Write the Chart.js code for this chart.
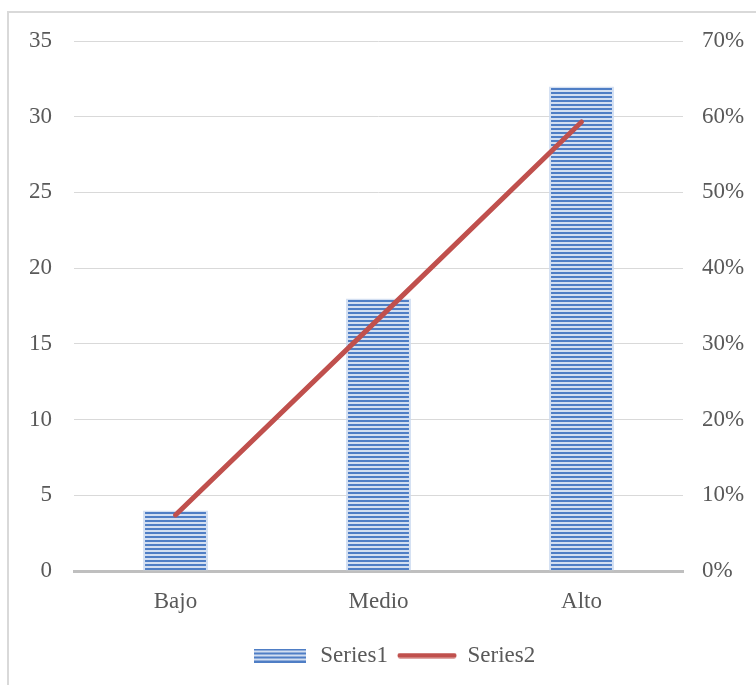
<!DOCTYPE html>
<html>
<head>
<meta charset="utf-8">
<script src="https://cdn.jsdelivr.net/npm/chart.js@4"></script>
<style>
  body { margin: 0; background: #fff; }
  #wrap { width: 756px; height: 685px; }
</style>
</head>
<body>
<div id="wrap"><canvas id="chartNivel"></canvas></div>
<script>
// data
var categories = ['Bajo', 'Medio', 'Alto'];
var series1 = [4, 18, 32];
var series2 = [7.4, 33.3, 59.3];   // percent
var leftTicks = [0, 5, 10, 15, 20, 25, 30, 35];
var rightTicks = [0, 10, 20, 30, 40, 50, 60, 70];

var fontFamily = "'Liberation Serif', 'DejaVu Serif', serif";
var fontSize = 23;
var textColor = '#595959';

// horizontal stripes for the bars
function stripes() {
    var c = document.createElement('canvas');
    c.width = 4; c.height = 4;
    var g = c.getContext('2d');
    g.fillStyle = '#d3dff1';
    g.fillRect(0, 0, 4, 4);
    g.fillStyle = '#4f7ec5';
    g.fillRect(0, 0, 4, 2);
    return g.createPattern(c, 'repeat');
}
var barFill = stripes();

// legend markers
function legendBox() {
    var c = document.createElement('canvas');
    c.width = 52; c.height = 14;
    var g = c.getContext('2d');
    g.fillStyle = barFill;
    g.fillRect(0, 0, 52, 14);
    return c;
}
function legendLine() {
    var c = document.createElement('canvas');
    c.width = 60; c.height = 6;
    var g = c.getContext('2d');
    g.strokeStyle = '#c0504d';
    g.lineWidth = 5;
    g.lineCap = 'round';
    g.beginPath();
    g.moveTo(3, 3); g.lineTo(57, 3);
    g.stroke();
    return c;
}
var markers = [legendBox(), legendLine()];

// grey frame on the top and left edges
var framePlugin = {
    id: 'frame',
    beforeDraw: function (chart) {
        var g = chart.ctx;
        g.save();
        g.strokeStyle = '#d9d9d9';
        g.lineWidth = 2;
        g.beginPath();
        g.moveTo(756, 12); g.lineTo(8, 12); g.lineTo(8, 685);
        g.stroke();
        g.restore();
    }
};

var ctx = document.getElementById('chartNivel').getContext('2d');
var chartNivel = new Chart(ctx, {
    data: {
        labels: categories,
        datasets: [{
            type: 'line',
            label: 'Series2',
            data: series2,
            yAxisID: 'y2',
            borderColor: '#c0504d',
            borderWidth: 5,
            borderCapStyle: 'round',
            pointRadius: 0,
            tension: 0,
            order: 0
        }, {
            type: 'bar',
            label: 'Series1',
            data: series1,
            yAxisID: 'y',
            backgroundColor: barFill,
            borderColor: 'rgba(205, 219, 240, 0.85)',
            borderWidth: { left: 2, right: 2, top: 0, bottom: 0 },
            borderSkipped: false,
            categoryPercentage: 1,
            barPercentage: 0.32,
            order: 1
        }]
    },
    options: {
        responsive: true,
        maintainAspectRatio: false,
        animation: false,
        layout: { padding: { top: 41, bottom: 8, left: 30, right: 0 } },
        plugins: {
            tooltip: { enabled: false },
            legend: {
                position: 'bottom',
                reverse: true,
                labels: {
                    color: textColor,
                    font: { family: fontFamily, size: fontSize },
                    usePointStyle: true,
                    pointStyleWidth: 58,
                    padding: 10,
                    generateLabels: function (chart) {
                        return chart.data.datasets.map(function (ds, i) {
                            return {
                                text: ds.label,
                                datasetIndex: i,
                                pointStyle: ds.type === 'bar' ? markers[0] : markers[1],
                                fontColor: textColor,
                                hidden: false,
                                lineWidth: 0
                            };
                        });
                    }
                }
            }
        },
        scales: {
            x: {
                grid: { display: false, drawTicks: false },
                border: { display: true, color: '#bfbfbf', width: 3 },
                ticks: { color: textColor, font: { family: fontFamily, size: fontSize }, padding: 17 },
                afterFit: function (s) { s.height = 63; }
            },
            y: {
                position: 'left',
                min: 0,
                max: 35,
                afterBuildTicks: function (s) { s.ticks = leftTicks.map(function (v) { return { value: v }; }); },
                grid: { color: '#d9d9d9', lineWidth: 1, drawTicks: false },
                border: { display: false },
                ticks: { color: textColor, font: { family: fontFamily, size: fontSize }, padding: 22 },
                afterFit: function (s) { s.width = 44; }
            },
            y2: {
                position: 'right',
                min: 0,
                max: 70,
                afterBuildTicks: function (s) { s.ticks = rightTicks.map(function (v) { return { value: v }; }); },
                grid: { display: false, drawTicks: false },
                border: { display: false },
                ticks: {
                    color: textColor,
                    font: { family: fontFamily, size: fontSize },
                    padding: 19,
                    callback: function (v) { return v + '%'; }
                },
                afterFit: function (s) { s.width = 73; }
            }
        }
    },
    plugins: [framePlugin]
});
</script>
</body>
</html>
